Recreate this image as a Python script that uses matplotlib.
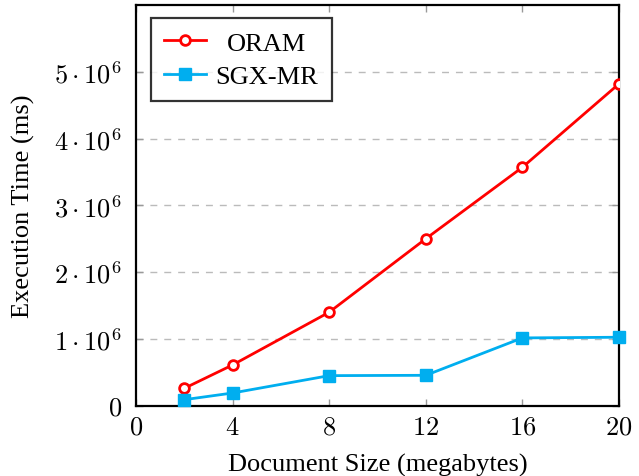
import matplotlib
matplotlib.use("Agg")
import matplotlib.pyplot as plt
from matplotlib.ticker import FixedLocator, FuncFormatter

x_sizes = [2, 4, 8, 12, 16, 20]
oram = [0.26e6, 0.61e6, 1.40e6, 2.50e6, 3.57e6, 4.82e6]
sgx_mr = [0.09e6, 0.19e6, 0.45e6, 0.455e6, 1.015e6, 1.025e6]
x_ticks = [0, 4, 8, 12, 16, 20]
y_ticks = [0, 1e6, 2e6, 3e6, 4e6, 5e6]

plt.rcParams['mathtext.fontset'] = 'cm'
plt.rcParams['font.family'] = ['Liberation Serif', 'DejaVu Serif']

fig = plt.figure(figsize=(6.39, 4.77), dpi=100)
ax = fig.add_axes([0.2128, 0.1474, 0.7559, 0.84])

ax.plot(x_sizes, oram, color='#FF0000', lw=2, marker='o', ms=7,
        mfc='white', mec='#FF0000', mew=2, label='ORAM', zorder=3)
ax.plot(x_sizes, sgx_mr, color='#00AEEF', lw=2, marker='s', ms=9,
        mfc='#00AEEF', mec='#00AEEF', label='SGX-MR', zorder=3, clip_on=False)

ax.set_xlim(0, 20)
ax.set_ylim(0, 6e6)
ax.xaxis.set_major_locator(FixedLocator(x_ticks))
ax.yaxis.set_major_locator(FixedLocator(y_ticks))

def yfmt(v, pos):
    if v == 0:
        return r'$0$'
    return r'$%d\cdot10^{6}$' % round(v / 1e6)

ax.xaxis.set_major_formatter(FuncFormatter(lambda v, p: r'$%d$' % v))
ax.yaxis.set_major_formatter(FuncFormatter(yfmt))

ax.tick_params(axis='both', direction='in', top=True, right=True,
               length=5, width=1, color='#999999', labelsize=19)
ax.tick_params(axis='y', pad=10)
ax.tick_params(axis='x', pad=8)
ax.grid(axis='y', color='#BBBBBB', ls=(0, (5, 5)), lw=1)
ax.set_axisbelow(True)
for s in ax.spines.values():
    s.set_linewidth(1.6)
    s.set_color('black')

ax.set_xlabel('Document Size (megabytes)', fontsize=19, labelpad=10)
ax.set_ylabel('Execution Time (ms)', fontsize=19, labelpad=14)

leg = ax.legend(loc='upper left', bbox_to_anchor=(0.031, 0.9676),
                borderaxespad=0, fontsize=19,
                frameon=True, fancybox=False, edgecolor='black',
                handlelength=1.6, handletextpad=0.35, borderpad=0.5,
                labelspacing=0.38)
leg.get_frame().set_linewidth(1.6)

# centre legend labels (pgfplots style)
fig.canvas.draw()
r = fig.canvas.get_renderer()
texts = leg.get_texts()
widths = [t.get_window_extent(r).width for t in texts]
wmax = max(widths)
for t, w in zip(texts, widths):
    t.set_x((wmax - w) / 2)

fig.savefig('out.png', dpi=100)
